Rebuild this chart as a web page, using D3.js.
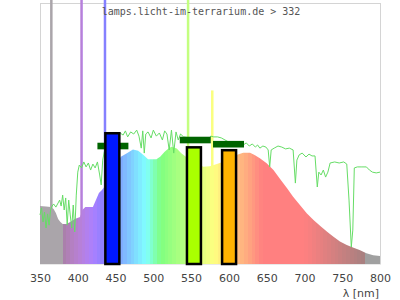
<!DOCTYPE html>
<html>
<head>
<meta charset="utf-8">
<script src="https://cdn.jsdelivr.net/npm/d3@7"></script>
<style>
  body { margin: 0; background: #fff; }
  svg { display: block; }
  .title { font-family: "DejaVu Sans Mono", monospace; font-size: 10px; fill: #555; }
  .axis text { font-family: "DejaVu Sans", sans-serif; font-size: 11px; fill: #444; }
</style>
</head>
<body>
<div id="chart"></div>
<script>
// lamp spectrum (relative, 0..100 of plot height)
const specNm  = [350, 358, 364, 368, 371, 374, 377, 380, 385, 390, 396, 403, 406, 410, 420, 424, 428, 432, 435,
                 445, 457, 465, 473, 480, 487, 493, 504, 509, 515, 520, 524, 531, 537, 544, 555, 566, 575, 588,
                 600, 610, 619, 628, 634, 641, 650, 659, 668, 677, 685, 694, 703, 712, 721, 730, 738, 747, 756,
                 765, 773, 782, 791, 800];
const specVal = [22.2, 22.0, 21.8, 21.1, 19.5, 17.2, 16.1, 15.3, 15.3, 16.1, 17.2, 18.0, 20.7, 21.8, 21.8, 24.5, 27.2, 28.4, 29.5,
                 35.0, 41.1, 42.4, 43.9, 43.4, 41.8, 40.1, 40.1, 41.1, 43.0, 44.3, 44.9, 44.3, 42.4, 40.9, 39.0, 37.3, 37.5, 38.7,
                 40.0, 41.8, 42.6, 42.6, 41.8, 40.5, 38.6, 36.0, 32.5, 29.0, 25.8, 22.6, 19.4, 16.9, 14.6, 12.4, 10.5, 8.6, 7.3,
                 6.2, 5.4, 4.1, 3.4, 3.1];

// mercury lines
const lineNm  = [365, 405, 436, 546, 578];
const lineVal = [110, 110, 110, 110, 66.5];

// sunlight reference
const sunNm  = [350, 352, 354, 356, 358, 360, 362, 364, 366, 368, 371, 374, 376, 378, 380, 382, 384, 386, 388, 390,
                392, 394, 396, 398, 400, 402, 405, 408, 411, 414, 417, 420, 423, 426, 429, 431, 433, 435, 440, 450,
                456, 460, 463, 466, 470, 474, 478, 481, 484, 486, 488, 490, 493, 497, 500, 504, 508, 512, 515, 518,
                521, 524, 527, 530, 533, 536, 540, 548, 555, 565, 572, 576, 580, 585, 590, 600, 610, 619, 623, 627,
                631, 635, 638, 641, 645, 649, 652, 654, 656, 660, 665, 670, 675, 680, 685, 688, 690, 693, 697, 702,
                706, 710, 714, 717, 719, 722, 725, 728, 731, 734, 740, 746, 752, 756, 759, 762, 764, 766, 770, 776,
                782, 786, 790, 795, 800];
const sunVal = [18.8, 21.5, 16.1, 19.9, 13.8, 19.2, 14.9, 20.7, 22.2, 23.0, 21.8, 23.4, 24.5, 22.2, 26.4, 20.7, 25.3, 14.9, 24.5, 18.8,
                13.8, 22.6, 12.3, 26.4, 35.2, 37.9, 36.8, 39.1, 37.2, 38.7, 36.0, 38.3, 36.8, 39.1, 34.1, 30.3, 39.8, 42.9, 47.5, 49.4,
                50.2, 49.4, 51.0, 48.7, 50.6, 49.8, 51.3, 49.0, 44.4, 51.0, 42.5, 49.8, 50.6, 48.3, 51.3, 49.0, 50.2, 47.5, 51.0, 49.8,
                43.7, 51.3, 42.5, 50.6, 47.5, 49.8, 48.7, 48.3, 48.3, 48.3, 47.5, 49.0, 48.7, 48.7, 48.3, 46.7, 46.4, 45.6, 46.4, 45.2,
                46.0, 44.8, 45.6, 44.4, 45.2, 44.8, 43.7, 37.2, 43.7, 44.4, 45.2, 44.8, 44.1, 44.4, 43.7, 31.0, 39.8, 41.8, 42.5, 41.0,
                42.1, 41.4, 41.4, 29.5, 35.2, 34.1, 36.0, 33.3, 35.2, 38.7, 39.1, 38.7, 39.1, 38.3, 24.5, 6.5, 13.0, 36.8, 37.2, 37.2,
                37.2, 36.0, 35.2, 34.9, 35.2];

// sunlight band averages
const sunBandFrom = [426, 535, 579];
const sunBandTo   = [467, 576, 620];
const sunBandVal  = [45.2, 47.5, 45.9];

// lamp band averages
const barFrom  = [436.5, 544.5, 591];
const barTo    = [455, 563, 609.5];
const barVal   = [50.1, 44.7, 43.6];
const barColor = ['#0018ff', '#aaff00', '#ffb400'];

const tickNm = [350, 400, 450, 500, 550, 600, 650, 700, 750, 800];
const titleText = 'lamps.licht-im-terrarium.de > 332';

const width = 400, height = 300;
const svg = d3.select('#chart').append('svg')
    .attr('width', width)
    .attr('height', height);

const x = d3.scaleLinear().domain([350, 800]).range([40, 380]);
const y = d3.scaleLinear().domain([0, 100]).range([264, 3]);

// pastel wavelength colour (Bruton style mixed with white)
function waveColor(nm){
    if (nm < 380) return '#aaa5aa';
    if (nm > 781) return '#a0a0a0';
    let r, g, b;
    if (nm < 440){ r = (440 - nm) / 60; g = 0; b = 1; }
    else if (nm < 490){ r = 0; g = (nm - 440) / 50; b = 1; }
    else if (nm < 510){ r = 0; g = 1; b = (510 - nm) / 20; }
    else if (nm < 580){ r = (nm - 510) / 70; g = 1; b = 0; }
    else if (nm < 645){ r = 1; g = (645 - nm) / 65; b = 0; }
    else { r = 1; g = 0; b = 0; }
    let f = 1;
    if (nm < 420) f = 0.3 + 0.7 * (nm - 380) / 40;
    else if (nm > 700) f = 0.3 + 0.7 * (780 - nm) / 80;
    const c = v => Math.round((255 + 255 * v * f) / 2);
    return d3.rgb(c(r), c(g), c(b)).formatHex();
}

// stepped gradient, 5 nm bins
const grad = svg.append('defs').append('linearGradient')
    .attr('id', 'spec')
    .attr('gradientUnits', 'userSpaceOnUse')
    .attr('x1', x(350)).attr('x2', x(800))
    .attr('y1', 0).attr('y2', 0);
const bins = d3.range(350, 800, 5);
bins.forEach(nm => {
    const col = waveColor(nm + 2.5);
    grad.append('stop').attr('offset', (nm - 350) / 450).attr('stop-color', col);
    grad.append('stop').attr('offset', (nm + 5 - 350) / 450).attr('stop-color', col);
});

// frame
svg.append('rect')
    .attr('x', 40.5).attr('y', 3.5)
    .attr('width', 340).attr('height', 260.5)
    .attr('fill', 'none')
    .attr('stroke', '#d4d4d4');

// lamp spectrum
const spec = specNm.map((d, i) => [d, specVal[i]]);
svg.append('path')
    .datum(spec)
    .attr('fill', 'url(#spec)')
    .attr('d', d3.area().x(d => x(d[0])).y0(y(0)).y1(d => y(d[1])));

svg.append('g').selectAll('rect')
    .data(lineNm.map((d, i) => [d, lineVal[i]]))
    .join('rect')
    .attr('x', d => x(d[0]) - 1.25)
    .attr('width', 2.5)
    .attr('y', d => y(d[1]))
    .attr('height', d => y(0) - y(d[1]))
    .attr('fill', 'url(#spec)');

// sunlight line
svg.append('path')
    .datum(sunNm.map((d, i) => [d, sunVal[i]]))
    .attr('fill', 'none')
    .attr('stroke', '#66dd66')
    .attr('stroke-width', 1)
    .attr('d', d3.line().x(d => x(d[0])).y(d => y(d[1])));

// sunlight band markers
svg.append('g').selectAll('rect')
    .data(sunBandVal)
    .join('rect')
    .attr('x', (d, i) => x(sunBandFrom[i]))
    .attr('width', (d, i) => x(sunBandTo[i]) - x(sunBandFrom[i]))
    .attr('y', d => y(d) - 3.3)
    .attr('height', 6.6)
    .attr('fill', '#006400');

// lamp band bars
svg.append('g').selectAll('rect')
    .data(barVal)
    .join('rect')
    .attr('x', (d, i) => x(barFrom[i]))
    .attr('width', (d, i) => x(barTo[i]) - x(barFrom[i]))
    .attr('y', d => y(d))
    .attr('height', d => y(0) - y(d))
    .attr('fill', (d, i) => barColor[i])
    .attr('stroke', '#000')
    .attr('stroke-width', 2.5);

// axis
const axis = svg.append('g')
    .attr('class', 'axis')
    .attr('transform', `translate(0,${y(0)})`)
    .call(d3.axisBottom(x).tickValues(tickNm).tickSize(0).tickPadding(10).tickFormat(d3.format('d')));
axis.select('.domain').remove();

svg.append('text')
    .attr('class', 'axis')
    .attr('x', 379).attr('y', 297)
    .attr('text-anchor', 'end')
    .style('font-family', '"DejaVu Sans", sans-serif')
    .style('font-size', '11px')
    .style('fill', '#444')
    .text('λ [nm]');

svg.append('text')
    .attr('class', 'title')
    .attr('x', 201).attr('y', 15)
    .attr('text-anchor', 'middle')
    .text(titleText);
</script>
</body>
</html>
